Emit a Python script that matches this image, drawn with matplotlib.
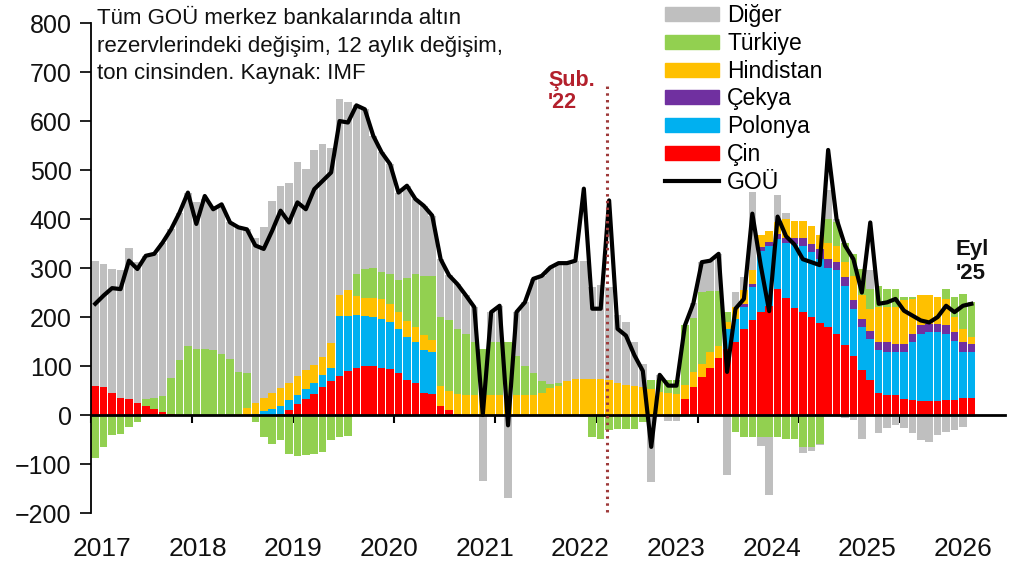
import numpy as np
import matplotlib
matplotlib.use("Agg")
import matplotlib.pyplot as plt
from matplotlib.patches import Patch
from matplotlib.lines import Line2D

plt.rcParams["font.family"] = ["Liberation Sans", "DejaVu Sans"]

# 12 aylık değişim, ton (Oca 2017 - Eyl 2025), her satır bir yıl
cin = [
    60, 57, 45, 35, 32, 25, 18, 12, 6, 3, 0, 0,
    0, 0, 0, 0, 0, 0, 0, 0, 0, 0, 3, 10,
    22, 33, 43, 57, 70, 80, 90, 97, 100, 100, 97, 94,
    85, 71, 65, 45, 43, 18, 10, 3, 0, 0, 0, 0,
    0, 0, 0, 0, 0, 0, 0, 0, 0, 0, 0, 0,
    0, 0, 0, 0, 0, 0, 0, 0, 0, 0, 32, 57,
    78, 97, 116, 135, 150, 176, 193, 210, 222, 257, 238, 218,
    210, 200, 187, 179, 166, 142, 121, 91, 71, 44, 40, 40,
    33, 30, 28, 28, 28, 30, 30, 35, 35,
]
polonya = [
    0, 0, 0, 0, 0, 0, 0, 0, 0, 0, 0, 0,
    0, 0, 0, 0, 0, 0, 0, 3, 8, 12, 16, 20,
    18, 20, 23, 25, 27, 122, 113, 108, 103, 100, 99, 95,
    90, 88, 85, 88, 85, 0, 0, 0, 0, 0, 0, 0,
    0, 0, 0, 0, 0, 0, 0, 0, 0, 0, 0, 0,
    0, 0, 0, 0, 0, 0, 0, 0, 0, 0, 0, 0,
    0, 0, 0, 40, 45, 45, 68, 125, 122, 102, 114, 132,
    136, 132, 131, 122, 129, 122, 96, 88, 84, 88, 88, 88,
    95, 119, 138, 141, 141, 136, 122, 93, 93,
]
cekya = [
    0, 0, 0, 0, 0, 0, 0, 0, 0, 0, 0, 0,
    0, 0, 0, 0, 0, 0, 0, 0, 0, 0, 0, 0,
    0, 0, 0, 0, 0, 0, 0, 0, 0, 0, 0, 0,
    0, 0, 0, 0, 0, 0, 0, 0, 0, 0, 0, 0,
    0, 0, 0, 0, 0, 0, 0, 0, 0, 0, 0, 0,
    0, 0, 0, 0, 0, 0, 0, 0, 0, 0, 0, 0,
    0, 0, 0, 0, 0, 5, 6, 8, 10, 10, 10, 12,
    15, 18, 20, 17, 17, 17, 17, 17, 17, 18, 21, 17,
    17, 17, 17, 17, 17, 17, 17, 21, 17,
]
hindistan = [
    0, 0, 0, 0, 0, 0, 0, 0, 0, 0, 0, 0,
    0, 0, 0, 0, 0, 3, 15, 22, 27, 32, 36, 35,
    40, 38, 37, 36, 50, 42, 52, 38, 36, 38, 41, 37,
    35, 32, 30, 30, 25, 42, 40, 40, 40, 40, 40, 40,
    40, 40, 40, 40, 40, 45, 55, 60, 70, 74, 74, 74,
    74, 72, 65, 62, 60, 58, 54, 47, 45, 42, 30, 30,
    27, 31, 25, 15, 25, 30, 30, 25, 22, 25, 38, 35,
    35, 35, 30, 34, 34, 31, 50, 48, 45, 70, 71, 75,
    89, 71, 61, 58, 54, 54, 31, 27, 15,
]
turkiye = [
    -88, -65, -40, -38, -25, -14, 15, 22, 32, 72, 112, 140,
    135, 135, 132, 125, 115, 85, 70, -15, -45, -60, -50, -80,
    -83, -82, -80, -75, -50, -45, -42, 45, 60, 62, 54, 62,
    66, 88, 107, 120, 130, 140, 143, 133, 125, 110, 95, 109,
    109, 109, 80, 61, 45, 25, 8, 5, 0, 0, -3, -45,
    -48, -30, -28, -28, -28, -15, 18, 24, 27, 30, 121, 112,
    146, 126, 113, 20, -35, -45, -45, -45, -45, -45, -48, -48,
    -65, -65, -60, 48, 47, 40, 45, 55, 40, 44, 37, 37,
    6, 3, 0, 0, 0, 20, 40, 71, 70,
]
diger = [
    255, 252, 254, 260, 308, 287, 292, 295, 314, 304, 301, 314,
    299, 305, 295, 300, 278, 295, 294, 336, 349, 392, 412, 408,
    437, 411, 438, 435, 398, 401, 384, 344, 325, 270, 245, 224,
    178, 189, 154, 144, 124, 118, 92, 91, 79, 70, -135, 61,
    74, -170, 90, 129, 193, 214, 238, 245, 240, 241, 241, 188,
    191, 190, 139, 128, 90, 47, -137, 11, -12, -12, 0, 29,
    61, 61, 75, -122, 32, 26, 159, -18, -119, 56, 13, -1,
    -13, -8, -2, 60, 7, -6, -11, -49, 40, -37, -27, -20,
    -27, -37, -51, -55, -40, -34, -30, -24, -3,
]
gou = [
    227, 244, 259, 257, 315, 298, 325, 329, 352, 379, 413, 454,
    390, 447, 420, 430, 393, 383, 379, 346, 339, 376, 417, 393,
    434, 420, 461, 478, 495, 600, 597, 632, 624, 570, 536, 512,
    454, 468, 441, 427, 407, 318, 285, 267, 244, 220, 0, 210,
    223, -21, 210, 230, 278, 284, 301, 310, 310, 315, 462, 217,
    217, 438, 176, 162, 122, 90, -65, 82, 60, 60, 183, 228,
    312, 315, 329, 88, 217, 237, 411, 305, 212, 405, 365, 348,
    318, 312, 306, 541, 400, 346, 318, 250, 393, 227, 230, 237,
    213, 203, 193, 189, 200, 223, 210, 223, 227,
]
years = ["2017", "2018", "2019", "2020", "2021", "2022", "2023", "2024", "2025", "2026"]
event_index = 61  # Şub. 2022

x = np.arange(len(gou))

fig = plt.figure(figsize=(10.24, 5.72), dpi=100)
ax = fig.add_axes([0.0889, 0.1031, 0.8926, 0.8566])

stack = [
    (cin, "#FF0000"),
    (polonya, "#00B0F0"),
    (cekya, "#7030A0"),
    (hindistan, "#FFC000"),
    (turkiye, "#92D050"),
    (diger, "#BFBFBF"),
]
pos = np.zeros(len(x))
neg = np.zeros(len(x))
for vals, col in stack:
    v = np.array(vals, dtype=float)
    base = np.where(v >= 0, pos, neg)
    ax.bar(x, v, width=0.9, bottom=base, color=col, linewidth=0, zorder=2)
    pos += np.clip(v, 0, None)
    neg += np.clip(v, None, 0)

ax.plot(x, gou, color="black", linewidth=3, zorder=5)

# Şub. '22 dikey çizgi
ax.vlines(event_index - 0.2, -198, 675, color="#9E3A3A", linewidth=2.2,
          linestyles=(0, (0.8, 1.4)), zorder=6)
ax.text(event_index - 1.7, 660, "Şub.\n'22", ha="right", va="center",
        multialignment="left", fontsize=15.5, fontweight="bold",
        color="#B3202C", linespacing=1.1)
ax.text(x[-1] + 0.1, 314, "Eyl\n'25", ha="center", va="center",
        multialignment="left", fontsize=16, fontweight="bold",
        color="#111111", linespacing=1.2)

ax.set_xlim(-0.5, 108)
ax.set_ylim(-200, 800)
ax.set_yticks(range(-200, 801, 100))
ax.tick_params(axis="y", labelsize=18, length=8, width=1.3, colors="#111111", pad=6)

ax.spines["top"].set_visible(False)
ax.spines["right"].set_visible(False)
ax.spines["left"].set_linewidth(1.3)
ax.spines["bottom"].set_position(("data", 0))
ax.spines["bottom"].set_linewidth(2)
ax.spines["bottom"].set_zorder(4)
ax.set_xticks(np.arange(-0.5, len(x), 12))
ax.tick_params(axis="x", length=6, width=1.5, labelbottom=False)

secax = ax.secondary_xaxis("bottom")
secax.set_xticks(np.linspace(0.8, 103.0, len(years)), labels=years)
secax.tick_params(length=0, pad=17, labelsize=19, colors="#111111")
secax.spines["bottom"].set_visible(False)

fig.text(97 / 1024, 1 - 8 / 572,
         "Tüm GOÜ merkez bankalarında altın\nrezervlerindeki değişim, 12 aylık değişim,\nton cinsinden. Kaynak: IMF",
         ha="left", va="top", fontsize=16, color="#111111", linespacing=1.42)

handles = [
    Patch(color="#BFBFBF", label="Diğer"),
    Patch(color="#92D050", label="Türkiye"),
    Patch(color="#FFC000", label="Hindistan"),
    Patch(color="#7030A0", label="Çekya"),
    Patch(color="#00B0F0", label="Polonya"),
    Patch(color="#FF0000", label="Çin"),
    Line2D([], [], color="black", linewidth=3, label="GOÜ"),
]
fig.legend(handles=handles, loc="upper left", bbox_to_anchor=(665 / 1024, 1 - 4 / 572),
           frameon=False, fontsize=16.5, handlelength=2.36, handleheight=0.56,
           handletextpad=0.35, labelspacing=0.21, borderpad=0, borderaxespad=0)

fig.savefig("out.png", dpi=100)
plt.close(fig)
